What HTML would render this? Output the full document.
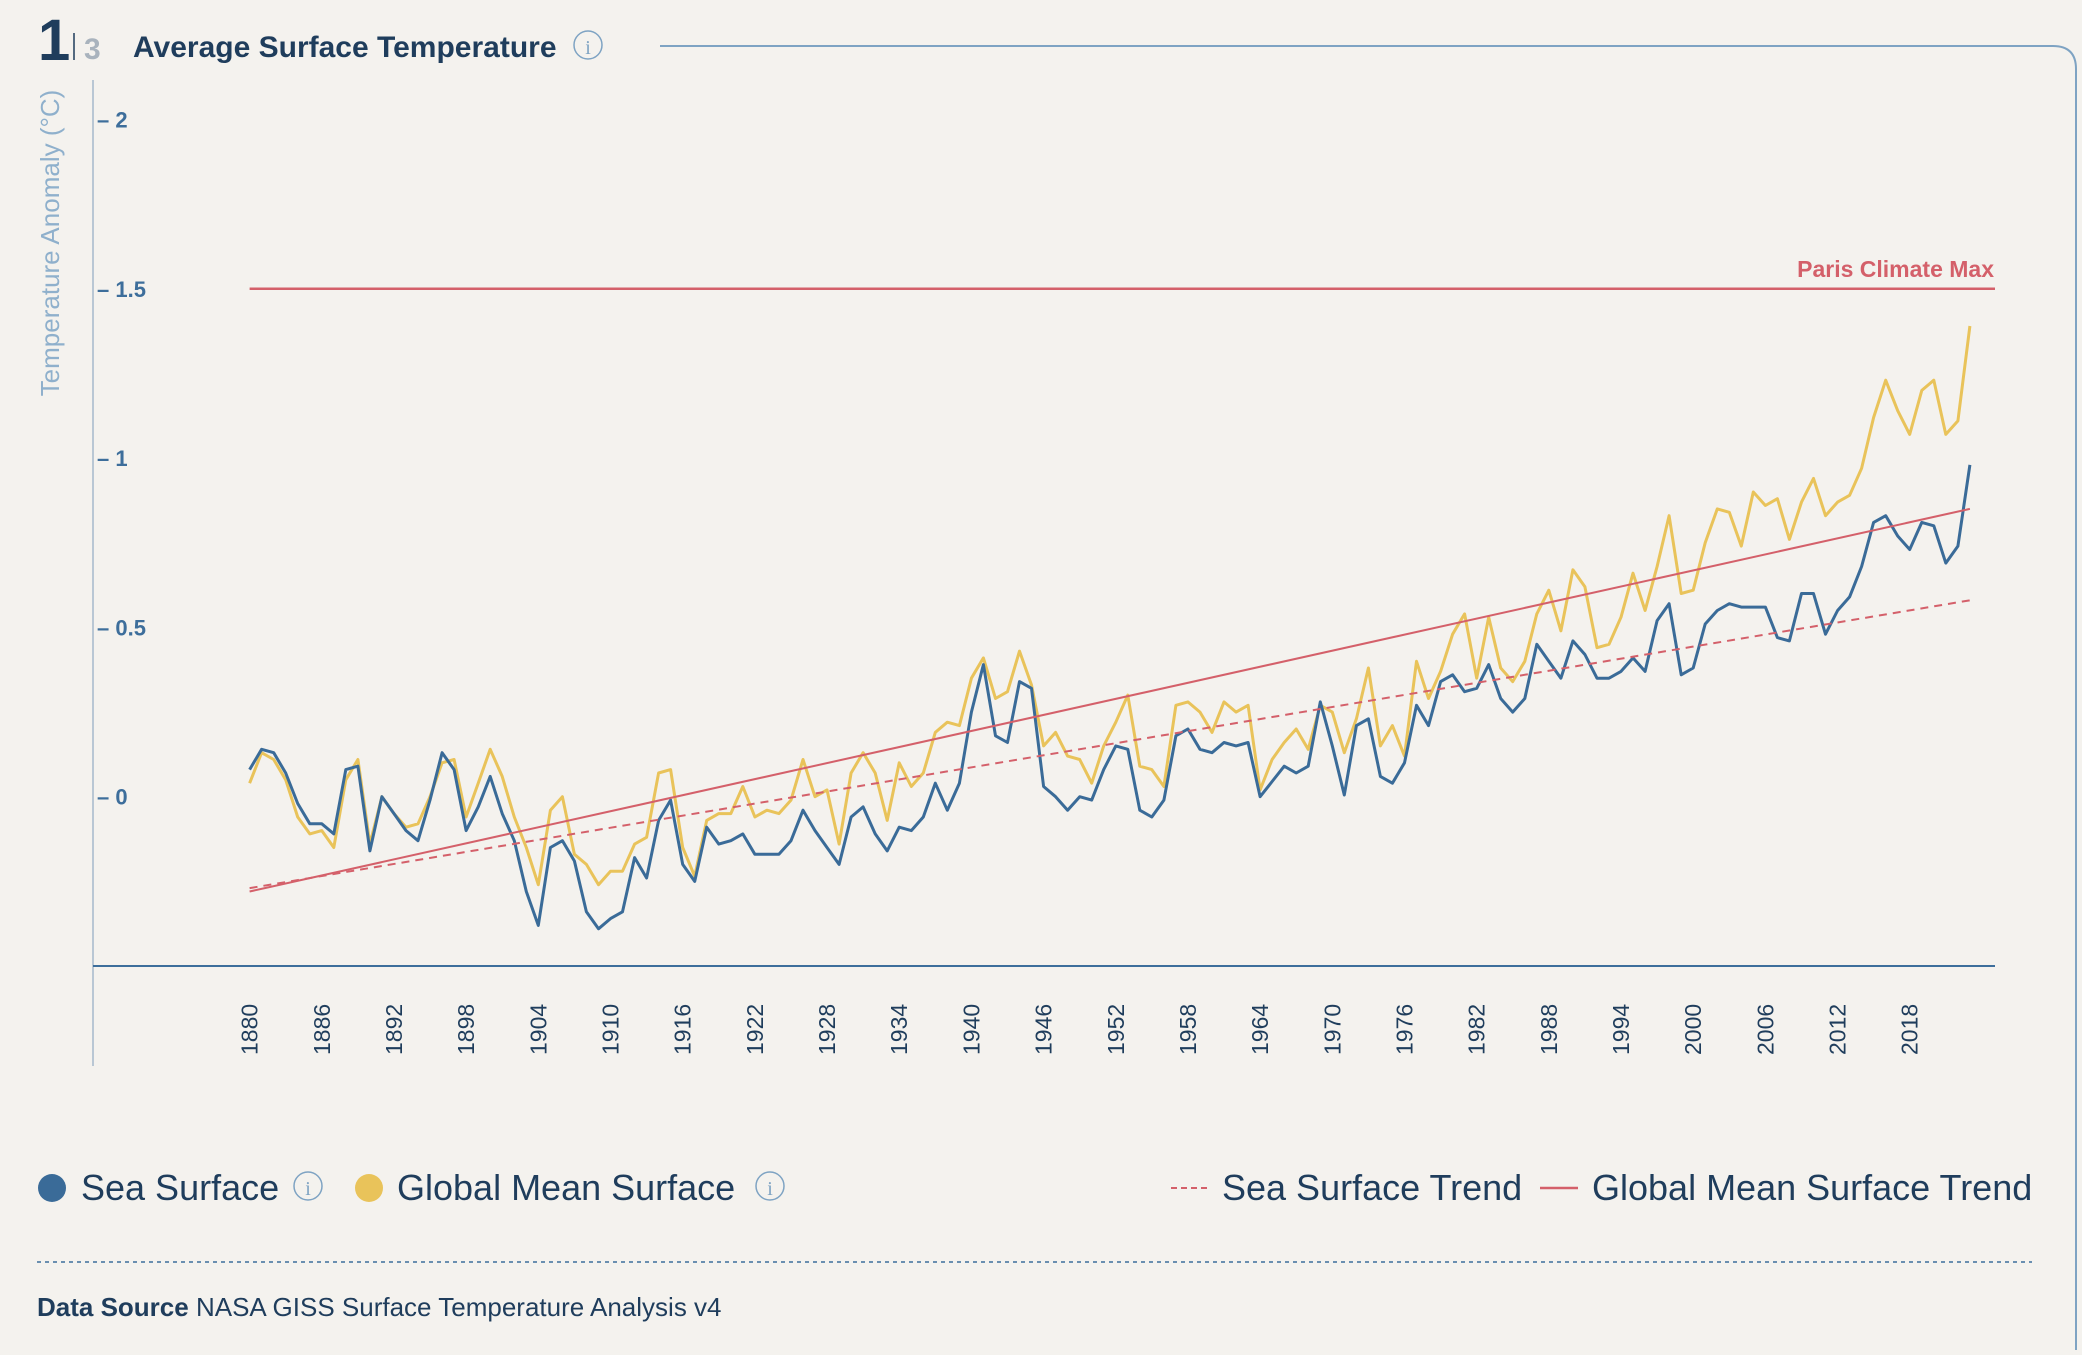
<!DOCTYPE html>
<html><head><meta charset="utf-8"><style>
html,body{margin:0;padding:0;background:#f4f2ee;}
body{width:2082px;height:1350px;overflow:hidden;font-family:"Liberation Sans",sans-serif;}
</style></head><body>
<svg id="chart" width="2082" height="1350" viewBox="0 0 2082 1350" xmlns="http://www.w3.org/2000/svg" font-family="Liberation Sans, sans-serif">
<rect width="2082" height="1350" fill="#f4f2ee"/>
<text x="38" y="60" font-size="58" font-weight="bold" fill="#1f3d5c">1</text>
<line x1="74" y1="33" x2="74" y2="60" stroke="#1f3d5c" stroke-width="1.5"/>
<text x="84" y="59" font-size="30" font-weight="bold" fill="#a9b3bd">3</text>
<text x="133" y="57" font-size="30" font-weight="bold" fill="#1f3d5c">Average Surface Temperature</text>
<g><circle cx="588" cy="45" r="14" fill="none" stroke="#7ea3c3" stroke-width="1.5"/><text x="588" y="54" font-size="20" text-anchor="middle" fill="#7ea3c3" font-family="Liberation Serif, serif">i</text></g>
<path d="M660 46 H2053 Q2076 46 2076 69 V1350" fill="none" stroke="#7ea3c3" stroke-width="2"/>
<text transform="translate(59,243) rotate(-90)" font-size="26" text-anchor="middle" fill="#8fb0cc">Temperature Anomaly (°C)</text>
<line x1="93" y1="80" x2="93" y2="1066" stroke="#b9c7d4" stroke-width="2"/>
<g id="yticks"></g>
<g id="xticks"></g>
<g id="plot"></g>
<g>
<g><circle cx="52" cy="1188" r="14" fill="#3a6b98"/><text x="81" y="1200" font-size="36" fill="#1f3d5c">Sea Surface</text></g>
<g><circle cx="308" cy="1186" r="14" fill="none" stroke="#7ea3c3" stroke-width="1.5"/><text x="308" y="1195" font-size="20" text-anchor="middle" fill="#7ea3c3" font-family="Liberation Serif, serif">i</text></g>
<g><circle cx="369" cy="1188" r="14" fill="#e9c35a"/><text x="397" y="1200" font-size="36" fill="#1f3d5c">Global Mean Surface</text></g>
<g><circle cx="770" cy="1186" r="14" fill="none" stroke="#7ea3c3" stroke-width="1.5"/><text x="770" y="1195" font-size="20" text-anchor="middle" fill="#7ea3c3" font-family="Liberation Serif, serif">i</text></g>
<g><line x1="1171" y1="1188" x2="1208" y2="1188" stroke="#d4606a" stroke-width="2" stroke-dasharray="6 4"/><text x="1222" y="1200" font-size="36" fill="#1f3d5c">Sea Surface Trend</text></g>
<g><line x1="1540" y1="1188" x2="1578" y2="1188" stroke="#d4606a" stroke-width="2.5"/><text x="1592" y="1200" font-size="36" fill="#1f3d5c">Global Mean Surface Trend</text></g>
</g>
<line x1="37" y1="1262" x2="2032" y2="1262" stroke="#3d6e9b" stroke-width="1.5" stroke-dasharray="4 4"/>
<text x="37" y="1316" font-size="26" fill="#1f3d5c"><tspan font-weight="bold">Data Source</tspan> NASA GISS Surface Temperature Analysis v4</text>
</svg>
<script>
const startYear = 1880;
const seaValues = [0.08,0.14,0.13,0.07,-0.02,-0.08,-0.08,-0.11,0.08,0.09,
-0.16,0.0,-0.05,-0.10,-0.13,-0.01,0.13,0.08,-0.10,-0.03,
0.06,-0.05,-0.13,-0.28,-0.38,-0.15,-0.13,-0.19,-0.34,-0.39,
-0.36,-0.34,-0.18,-0.24,-0.07,-0.01,-0.20,-0.25,-0.09,-0.14,
-0.13,-0.11,-0.17,-0.17,-0.17,-0.13,-0.04,-0.10,-0.15,-0.20,
-0.06,-0.03,-0.11,-0.16,-0.09,-0.10,-0.06,0.04,-0.04,0.04,
0.25,0.39,0.18,0.16,0.34,0.32,0.03,0.0,-0.04,0.0,
-0.01,0.08,0.15,0.14,-0.04,-0.06,-0.01,0.18,0.20,0.14,
0.13,0.16,0.15,0.16,0.0,0.045,0.09,0.07,0.09,0.28,
0.15,0.005,0.21,0.23,0.06,0.04,0.10,0.27,0.21,0.34,
0.36,0.31,0.32,0.39,0.29,0.25,0.29,0.45,0.40,0.35,
0.46,0.42,0.35,0.35,0.37,0.41,0.37,0.52,0.57,0.36,
0.38,0.51,0.55,0.57,0.56,0.56,0.56,0.47,0.46,0.60,
0.60,0.48,0.55,0.59,0.68,0.81,0.83,0.77,0.73,0.81,
0.80,0.69,0.74,0.98];
const globalValues = [0.04,0.13,0.11,0.05,-0.06,-0.11,-0.10,-0.15,0.05,0.11,
-0.14,0.0,-0.05,-0.09,-0.08,0.0,0.10,0.11,-0.06,0.04,
0.14,0.06,-0.06,-0.15,-0.26,-0.04,0.0,-0.17,-0.20,-0.26,
-0.22,-0.22,-0.14,-0.12,0.07,0.08,-0.15,-0.235,-0.07,-0.05,
-0.05,0.03,-0.06,-0.04,-0.05,-0.01,0.11,0.0,0.02,-0.14,
0.07,0.13,0.07,-0.07,0.10,0.03,0.07,0.19,0.22,0.21,
0.35,0.41,0.29,0.31,0.43,0.33,0.15,0.19,0.12,0.11,
0.04,0.15,0.22,0.30,0.09,0.08,0.03,0.27,0.28,0.25,
0.19,0.28,0.25,0.27,0.02,0.11,0.16,0.20,0.14,0.27,
0.25,0.13,0.23,0.38,0.15,0.21,0.12,0.40,0.29,0.37,
0.48,0.54,0.35,0.53,0.38,0.34,0.40,0.54,0.61,0.49,
0.67,0.62,0.44,0.45,0.53,0.66,0.55,0.68,0.83,0.60,
0.61,0.75,0.85,0.84,0.74,0.90,0.86,0.88,0.76,0.87,
0.94,0.83,0.87,0.89,0.97,1.12,1.23,1.14,1.07,1.20,
1.23,1.07,1.11,1.39];
const seaTrend = [-0.27, 0.58];
const globalTrend = [-0.28, 0.85];
const parisMax = 1.5;
const yTickValues = [2, 1.5, 1, 0.5, 0];
const yTickLabels = ["2", "1.5", "1", "0.5", "0"];
const xTickYears = [1880,1886,1892,1898,1904,1910,1916,1922,1928,1934,1940,1946,1952,1958,1964,1970,1976,1982,1988,1994,2000,2006,2012,2018];

const NS = "http://www.w3.org/2000/svg";
const endYear = startYear + seaValues.length - 1;
function xPos(year){ return 249.6 + (year - startYear) * 12.03; }
function yPos(v){ return 796.7 - v * 338.6; }
function mk(tag, attrs, parent){ const e = document.createElementNS(NS, tag); for (const k in attrs) e.setAttribute(k, attrs[k]); parent.appendChild(e); return e; }

const yt = document.getElementById('yticks');
yTickValues.forEach((v, i) => {
  const t = mk('text', {x: 97, y: yPos(v) + 8, 'font-size': 22, 'font-weight': 'bold', fill: '#3d6e9b'}, yt);
  t.textContent = '\u2013 ' + yTickLabels[i];
  
  
});
const xt = document.getElementById('xticks');
xTickYears.forEach(yr => {
  const t = mk('text', {transform: `translate(${xPos(yr) + 8},1055) rotate(-90)`, 'font-size': 23, fill: '#1f3d5c'}, xt);
  t.textContent = yr;
  
  
});

const plot = document.getElementById('plot');
const axis = mk('line', {x1: 93, y1: 966, x2: 1995, y2: 966, stroke: '#3d6e9b', 'stroke-width': 2}, plot);



const paris = mk('line', {x1: xPos(startYear), y1: yPos(parisMax), x2: 1995, y2: yPos(parisMax), stroke: '#d4606a', 'stroke-width': 2.5}, plot);


const pl = mk('text', {x: 1994, y: yPos(parisMax) - 12, 'font-size': 23, 'font-weight': 'bold', fill: '#d4606a', 'text-anchor': 'end'}, plot);
pl.textContent = 'Paris Climate Max';



function series(vals){
  return vals.map((v, i) => `${i ? 'L' : 'M'}${xPos(startYear + i).toFixed(1)} ${yPos(v).toFixed(1)}`).join(' ');
}
const g = mk('path', {d: series(globalValues), fill: 'none', stroke: '#e9c35a', 'stroke-width': 3, 'stroke-linejoin': 'round'}, plot);


const s = mk('path', {d: series(seaValues), fill: 'none', stroke: '#3a6b98', 'stroke-width': 3, 'stroke-linejoin': 'round'}, plot);



const gt = mk('line', {x1: xPos(startYear), y1: yPos(globalTrend[0]), x2: xPos(endYear), y2: yPos(globalTrend[1]), stroke: '#d4606a', 'stroke-width': 2}, plot);


const st = mk('line', {x1: xPos(startYear), y1: yPos(seaTrend[0]), x2: xPos(endYear), y2: yPos(seaTrend[1]), stroke: '#d4606a', 'stroke-width': 2, 'stroke-dasharray': '8 6'}, plot);


</script>
</body></html>
